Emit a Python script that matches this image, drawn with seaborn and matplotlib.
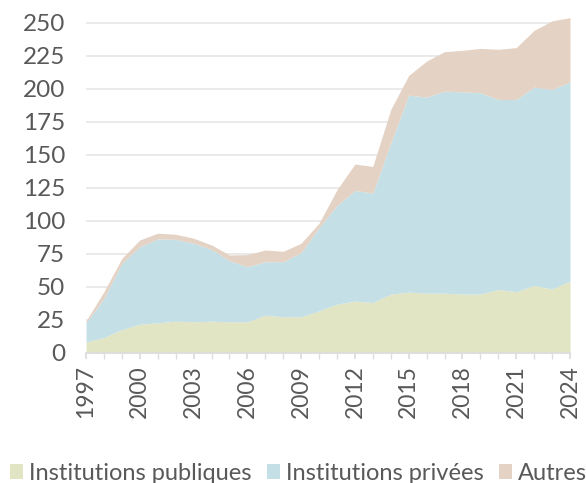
import numpy as np
import matplotlib
matplotlib.use("Agg")
import matplotlib.pyplot as plt
import seaborn as sns

years = list(range(1997, 2025))
# stacked tops
publiques = [8.4, 11.7, 17.7, 21.8, 22.8, 24.1, 23.6, 24.1, 23.6, 23.6, 28.6, 27.4, 27.4,
             31.9, 37.0, 39.3, 38.2, 44.6, 46.1, 45.3, 45.3, 44.6, 44.6, 48.1, 46.4, 51.2, 48.4, 54.5]
top_privees = [22.8, 41.3, 67.9, 80.5, 86.4, 86.1, 83.1, 78.5, 69.9, 65.3, 69.1, 69.1, 76.0,
               95.0, 111.7, 123.1, 121.1, 159.0, 195.3, 193.8, 198.3, 197.8, 197.1, 192.0, 192.0, 201.4, 199.6, 205.2]
top_total = [24.3, 46.4, 71.7, 85.6, 90.7, 89.9, 86.9, 81.8, 74.2, 74.5, 78.0, 77.0, 83.1,
             98.3, 123.6, 143.1, 141.3, 184.4, 210.2, 221.1, 228.2, 229.2, 230.7, 230.0, 231.3, 244.4, 251.5, 254.0]

privees = list(np.array(top_privees) - np.array(publiques))
autres = list(np.array(top_total) - np.array(top_privees))

labels = ["Institutions publiques", "Institutions privées", "Autres"]
colors = ["#e1e5c3", "#c4e0e6", "#e4d2c4"]

sns.set_theme(style="white")
plt.rcParams["font.family"] = ["Lato", "DejaVu Sans"]
txt = "#595959"

fig = plt.figure(figsize=(5.86, 4.83), dpi=100)
ax = fig.add_axes([0.1468, 0.2692, 0.8259, 0.708])

ax.stackplot(years, publiques, privees, autres, colors=colors, labels=labels, linewidth=0)

ax.set_xlim(1997, 2024)
ax.set_ylim(0, 259)
ax.set_yticks(range(0, 251, 25))
ax.set_xticks(range(1997, 2025, 3))
ax.set_xticks(years, minor=True)
ax.yaxis.grid(True, color="#e6e6e6", linewidth=1.2)
ax.set_axisbelow(True)
for s in ["top", "right", "left"]:
    ax.spines[s].set_visible(False)
ax.spines["bottom"].set_color("#dddddd")
ax.spines["bottom"].set_zorder(5)

ax.tick_params(axis="y", length=0, labelsize=17.5, labelcolor=txt, pad=15)
ax.tick_params(axis="x", which="both", direction="out", length=4, color="#dddddd",
               labelsize=16.5, labelcolor=txt, rotation=90, bottom=True, pad=5)

handles, lbls = ax.get_legend_handles_labels()
fig.legend(handles, lbls, loc="center left", bbox_to_anchor=(0.017, 0.02), ncol=3,
           frameon=False, fontsize=17, labelcolor=txt, handlelength=0.55, handleheight=0.55,
           handletextpad=0.25, columnspacing=0.65, borderaxespad=0, borderpad=0)

fig.savefig("out.png", dpi=100)
